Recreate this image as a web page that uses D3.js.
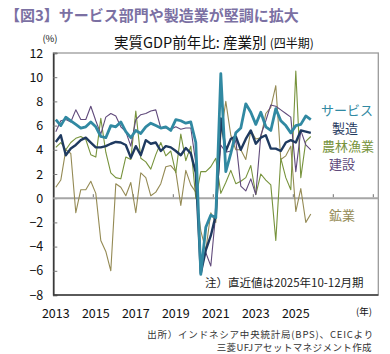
<!DOCTYPE html>
<html>
<head>
<meta charset="utf-8">
<script src="https://cdn.jsdelivr.net/npm/d3@7"></script>
<style>
  body { margin: 0; background: #fff; }
  svg { display: block; font-family: "Noto Sans CJK JP", "Noto Sans", sans-serif; }
</style>
</head>
<body>
<svg id="chart" width="390" height="354"></svg>
<script>
// data, 2013Q1 .. 2025Q4 (前年比 %)
const years = [2013, 2014, 2015, 2016, 2017, 2018, 2019, 2020, 2021, 2022, 2023, 2024, 2025];
const quarters = ["Q1", "Q2", "Q3", "Q4"];
const labelYears = [2013, 2015, 2017, 2019, 2021, 2023, 2025];
const yTicks = [-8, -6, -4, -2, 0, 2, 4, 6, 8, 10, 12];

const services = [6.5, 6.0, 6.7, 6.4, 6.1, 5.8, 5.9, 6.3, 5.9, 5.1, 5.0, 6.0, 5.9, 6.3, 5.5, 5.0,
  5.6, 5.35, 5.9, 6.2, 6.0, 5.8, 5.9, 5.6, 6.5, 6.4, 6.2, 6.3, 4.6, -6.3, -2.4, -1.4,
  -1.6, 10.3, 2.2, 3.7, 5.4, 5.8, 7.8, 7.1, 6.1, 7.1, 5.9, 5.6, 7.4, 6.4, 6.0, 5.4,
  6.0, 6.1, 6.8, 6.5];
const manufacturing = [4.65, 5.2, 3.55, 4.1, 4.4, 4.8, 5.0, 4.6, 4.2, 4.2, 4.3, 4.5, 4.65, 4.6, 4.4, 3.35,
  4.3, 3.55, 4.8, 4.5, 4.6, 3.9, 4.3, 4.2, 3.9, 3.55, 4.15, 3.7, 2.1, -6.2, -4.3, -3.1,
  -1.4, 6.6, 3.9, 4.9, 5.1, 4.0, 4.9, 5.6, 4.5, 5.0, 5.2, 4.1, 4.1, 3.9, 4.6, 4.8,
  4.6, 5.6, 5.5, 5.4];
const agriculture = [4.2, 4.6, 4.0, 4.6, 4.95, 5.1, 4.85, 3.6, 3.4, 6.6, 3.8, 2.1, 1.7, 1.6, 3.4, 3.2,
  7.2, 3.3, 3.0, 2.4, 3.6, 4.6, 3.5, 3.9, 2.1, 5.3, 3.1, 4.3, 0.0, 2.2, 2.2, 2.6,
  3.3, 0.4, 1.3, 2.3, 1.2, 1.4, 1.7, 2.7, 0.3, 2.0, 1.5, 1.1, -3.5, 3.3, 1.7, 0.7,
  10.5, 1.7, 4.7, 5.1];
const construction = [5.5, 6.4, 6.5, 6.3, 7.3, 6.5, 6.5, 7.6, 6.4, 5.3, 6.7, 7.0, 6.8, 5.9, 5.5, 4.3,
  6.5, 6.9, 7.0, 7.2, 7.3, 5.8, 5.8, 5.7, 5.9, 5.7, 5.8, 5.8, 2.9, -5.4, -4.5, -5.6,
  -1.2, 4.4, 3.8, 3.9, 4.8, 1.0, 0.6, 1.6, 0.3, 5.2, 6.4, 7.7, 7.6, 7.3, 7.0, 6.7,
  2.2, 5.6, 4.4, 4.0];
const mining = [0.9, 1.5, 4.0, 3.7, -1.2, 0.7, 0.7, 1.4, 0.4, -3.5, -4.4, -6.0, 1.2, 0.9, 0.2, 1.3,
  -1.2, 2.1, 1.7, 0.2, 0.5, 1.2, 2.6, 2.7, 2.2, -0.6, 2.3, 1.1, 0.5, -2.7, -4.3, -1.2,
  -2.0, 5.2, 8.0, 5.2, 4.0, 4.0, 3.2, 5.6, 4.9, 5.0, 7.0, 7.5, 9.3, 3.2, 3.5, 4.3,
  -1.1, 0.8, -2.0, -1.3];

const seriesNames = ["鉱業", "農林漁業", "建設", "製造", "サービス"];
const seriesValues = [mining, agriculture, construction, manufacturing, services];

// styles
const colors = { "サービス": "#3189a2", "製造": "#1f3a60", "農林漁業": "#77933c", "建設": "#604a7b", "鉱業": "#948a54" };
const widths = { "サービス": 2.8, "製造": 2.4, "農林漁業": 1.1, "建設": 1.1, "鉱業": 1.1 };

const labelPos = {
  "サービス": [347, 110], "製造": [345, 128], "農林漁業": [348, 146],
  "建設": [342, 164], "鉱業": [342, 215]
};

const svg = d3.select("#chart");
const plot = { left: 53.3, right: 378.3, top: 53, bottom: 295 };

// categories: 52 quarters with data plus empty slots up to the right border
const cats = [];
years.forEach(y => quarters.forEach(q => cats.push(y + q)));
const nSlots = 65;
const slots = d3.range(nSlots);

const x = d3.scaleBand().domain(slots).range([plot.left, plot.right]).padding(0);
const y = d3.scaleLinear().domain([-8, 12]).range([plot.bottom, plot.top]);
const cx = i => x(i) + x.bandwidth() / 2;

// titles
svg.append("text")
  .attr("x", 5).attr("y", 21)
  .attr("font-size", 15).attr("font-weight", "bold")
  .attr("fill", "#7b70a3")
  .text("【図3】サービス部門や製造業が堅調に拡大");

const ct = svg.append("text")
  .attr("x", 214).attr("y", 48)
  .attr("text-anchor", "middle")
  .attr("fill", "#111");
ct.append("tspan").attr("font-size", 14.5).text("実質GDP前年比: 産業別 ");
ct.append("tspan").attr("font-size", 12).text("(四半期)");

svg.append("text").attr("x", 50).attr("y", 42)
  .attr("text-anchor", "middle").attr("font-size", 9.5).attr("fill", "#111").text("(%)");

// plot border
svg.append("rect")
  .attr("x", plot.left).attr("y", plot.top)
  .attr("width", plot.right - plot.left).attr("height", plot.bottom - plot.top)
  .attr("fill", "none").attr("stroke", "#9a9a9a").attr("stroke-width", 1.3);

// y axis
const yAxis = svg.append("g").attr("transform", `translate(${plot.left},0)`)
  .call(d3.axisLeft(y).tickValues(yTicks).tickSize(-4).tickPadding(10));
yAxis.select(".domain").attr("stroke", "#3a3a3a").attr("stroke-width", 1.6);
yAxis.selectAll(".tick line").attr("stroke", "#7a7a7a");
yAxis.selectAll(".tick text")
  .attr("font-size", 12.5).attr("fill", "#111")
  .attr("font-family", "\"Noto Sans CJK JP\", sans-serif");

// bottom line
svg.append("line")
  .attr("x1", plot.left).attr("x2", plot.right)
  .attr("y1", plot.bottom).attr("y2", plot.bottom)
  .attr("stroke", "#3a3a3a").attr("stroke-width", 1.6);

// zero line with category ticks
svg.append("line")
  .attr("x1", plot.left).attr("x2", plot.right)
  .attr("y1", y(0)).attr("y2", y(0))
  .attr("stroke", "#a6a6a6").attr("stroke-width", 2);
svg.append("g").selectAll("line")
  .data(slots.filter(i => i % 8 === 0 && i > 0))
  .join("line")
  .attr("x1", d => x(d)).attr("x2", d => x(d))
  .attr("y1", y(0) - 1).attr("y2", y(0) - 4)
  .attr("stroke", "#707070").attr("stroke-width", 1);

// x labels at Q1 of odd years
svg.append("g").selectAll("text")
  .data(labelYears)
  .join("text")
  .attr("x", d => cx(cats.indexOf(d + "Q1")))
  .attr("y", 318)
  .attr("text-anchor", "middle")
  .attr("font-size", 12.5).attr("fill", "#111")
  .text(d => d);

svg.append("text").attr("x", 364).attr("y", 315)
  .attr("text-anchor", "middle").attr("font-size", 9.5).attr("fill", "#111").text("(年)");

// series lines
const line = d3.line().x((d, i) => cx(i)).y(d => y(d));
svg.append("g").selectAll("path")
  .data(seriesNames.map((n, k) => ({ name: n, values: seriesValues[k] })))
  .join("path")
  .attr("d", d => line(d.values))
  .attr("fill", "none")
  .attr("stroke", d => colors[d.name])
  .attr("stroke-width", d => widths[d.name])
  .attr("stroke-linejoin", "round");

// labels next to the lines
svg.append("g").selectAll("text")
  .data(seriesNames)
  .join("text")
  .attr("x", d => labelPos[d][0]).attr("y", d => labelPos[d][1] + 5)
  .attr("text-anchor", "middle")
  .attr("font-size", 13)
  .attr("fill", d => colors[d])
  .text(d => d);

// note and source
svg.append("text").attr("x", 205).attr("y", 287)
  .attr("font-size", 11.5).attr("fill", "#222")
  .text("注）直近値は2025年10-12月期");

svg.append("text").attr("x", 374).attr("y", 337.5)
  .attr("text-anchor", "end").attr("font-size", 9.5).attr("fill", "#333")
  .attr("letter-spacing", 0.8)
  .text("出所）インドネシア中央統計局(BPS)、CEICより");
svg.append("text").attr("x", 372).attr("y", 351)
  .attr("text-anchor", "end").attr("font-size", 9.5).attr("fill", "#333")
  .attr("letter-spacing", 0.4)
  .text("三菱UFJアセットマネジメント作成");
</script>
</body>
</html>
